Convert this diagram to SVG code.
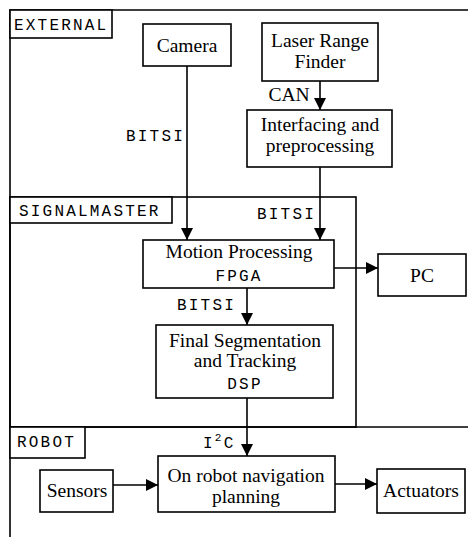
<svg xmlns="http://www.w3.org/2000/svg" width="468" height="537" viewBox="0 0 468 537">
<style>
.b{fill:#fff;stroke:#000;stroke-width:1.6}
.f{fill:none;stroke:#000;stroke-width:1.6}
.s{font-family:"Liberation Serif","Times New Roman",serif;font-size:19.5px;fill:#000;text-anchor:middle}
.m{font-family:"Liberation Mono","Courier New",monospace;font-size:16px;letter-spacing:2.2px;fill:#000}
.c{stroke:#000;stroke-width:1.6;fill:none;marker-end:url(#ah)}
</style>
<defs>
<marker id="ah" markerWidth="12" markerHeight="14" refX="12" refY="7" orient="auto" markerUnits="userSpaceOnUse">
<path d="M0,1 L12,7 L0,13 Z" fill="#000"/>
</marker>
</defs>
<rect width="468" height="537" fill="#fff"/>
<g id="frames">
<path class="f" d="M10,537 V10 H468"/>
<rect class="f" x="10" y="197" width="346" height="230"/>
<path class="f" d="M10,427 H468"/>
</g>
<g id="label-external"><rect class="b" x="10" y="10" width="102" height="28"/><text class="m" x="14" y="30">EXTERNAL</text></g>
<g id="label-signalmaster"><rect class="b" x="10" y="197" width="162" height="26"/><text class="m" x="19" y="216">SIGNALMASTER</text></g>
<g id="label-robot"><rect class="b" x="10" y="427" width="75" height="31"/><text class="m" x="17" y="447">ROBOT</text></g>
<g id="connectors">
<path class="c" d="M187,66 V240"/>
<path class="c" d="M320,81 V110"/>
<path class="c" d="M320,167 V240"/>
<path class="c" d="M334,268 H378"/>
<path class="c" d="M247,288 V325"/>
<path class="c" d="M247,398 V456"/>
<path class="c" d="M113,485 H158"/>
<path class="c" d="M335,484 H377"/>
<text class="m" x="126" y="141">BITSI</text>
<text class="s" x="289" y="101">CAN</text>
<text class="m" x="257" y="219">BITSI</text>
<text class="m" x="177" y="310">BITSI</text>
<text class="m" x="203" y="448">I<tspan dy="-7" font-size="11px">2</tspan><tspan dy="7">C</tspan></text>
</g>
<g id="camera"><rect class="b" x="143" y="24" width="88" height="42"/><text class="s" x="187" y="52">Camera</text></g>
<g id="laser"><rect class="b" x="262" y="23" width="116" height="58"/><text class="s" x="320" y="47">Laser Range</text><text class="s" x="320" y="68">Finder</text></g>
<g id="interfacing"><rect class="b" x="247" y="110" width="145" height="57"/><text class="s" x="320" y="131">Interfacing and</text><text class="s" x="320" y="152">preprocessing</text></g>
<g id="motion"><rect class="b" x="143" y="240" width="191" height="48"/><text class="s" x="239" y="258">Motion Processing</text><text class="m" x="239" y="281" text-anchor="middle">FPGA</text></g>
<g id="pc"><rect class="b" x="378" y="254" width="88" height="42"/><text class="s" x="422" y="282">PC</text></g>
<g id="final"><rect class="b" x="156" y="325" width="177" height="73"/><text class="s" x="245" y="347">Final Segmentation</text><text class="s" x="245" y="367">and Tracking</text><text class="m" x="245" y="389" text-anchor="middle">DSP</text></g>
<g id="navigation"><rect class="b" x="158" y="456" width="177" height="56"/><text class="s" x="246" y="482">On robot navigation</text><text class="s" x="246" y="503">planning</text></g>
<g id="sensors"><rect class="b" x="40" y="470" width="73" height="42"/><text class="s" x="77" y="497">Sensors</text></g>
<g id="actuators"><rect class="b" x="377" y="469" width="88" height="44"/><text class="s" x="421" y="497">Actuators</text></g>
</svg>
